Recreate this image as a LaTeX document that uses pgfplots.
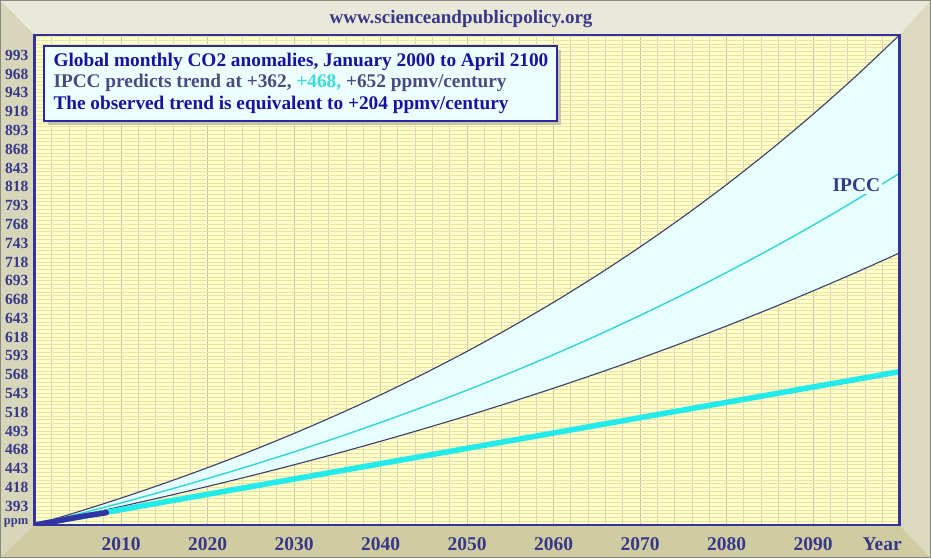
\documentclass[border=0pt]{standalone}
\usepackage{pgfplots}
\pgfplotsset{compat=1.18}
\usepgfplotslibrary{fillbetween}
\usepackage{pgfplotstable}
\usepackage{fontspec}
\setmainfont{Liberation Serif}

\definecolor{frameTop}{HTML}{EAE9D9}
\definecolor{frameLeft}{HTML}{D7D5BA}
\definecolor{frameBottom}{HTML}{D0CCA2}
\definecolor{frameRight}{HTML}{DBD9BE}
\definecolor{frameEdge}{HTML}{8A8A7C}
\definecolor{plotBg}{HTML}{FFFFCC}
\definecolor{gridH}{HTML}{EAE3A2}
\definecolor{gridV}{HTML}{DAD6BC}
\definecolor{gridVmaj}{HTML}{C6C2AE}
\definecolor{navy}{HTML}{333399}
\definecolor{labelNavy}{HTML}{38388A}
\definecolor{bandFill}{HTML}{E8FFFF}
\definecolor{bandEdge}{HTML}{3C3C6E}
\definecolor{midCyan}{HTML}{2ED6D6}
\definecolor{obsCyan}{HTML}{22EBEB}
\definecolor{obsBlue}{HTML}{3333A6}
\definecolor{boxBlue}{HTML}{1414A0}
\definecolor{boxSlate}{HTML}{4A4A80}
\definecolor{boxCyan}{HTML}{3CDCDC}
\definecolor{boxFill}{HTML}{EEFFFF}
\definecolor{boxBorder}{HTML}{2A2AA0}
\definecolor{boxShadow}{HTML}{C9C5A8}

% IPCC projections (ppmv): low, central and high scenarios
\pgfplotstableread{
year upper mid lower
2000 368.0 368.0 368.0
2005 385.4 382.4 380.1
2010 403.8 397.4 392.6
2015 423.4 413.2 405.7
2020 444.2 429.8 419.3
2025 466.3 447.1 433.4
2030 489.8 465.3 448.1
2035 514.7 484.4 463.4
2040 541.1 504.4 479.4
2045 569.2 525.4 496.0
2050 599.0 547.4 513.3
2055 630.7 570.5 531.3
2060 664.3 594.7 550.0
2065 700.0 620.1 569.5
2070 737.9 646.8 589.7
2075 778.2 674.7 610.8
2080 820.9 704.0 632.8
2085 866.3 734.7 655.7
2090 914.5 766.8 679.5
2095 965.6 800.6 704.2
2100 1020.0 836.0 730.0
}\ipcc

\begin{document}
\begin{tikzpicture}
% bevelled frame
\fill[frameTop] (0pt,558pt) -- (931pt,558pt) -- (899.5pt,523pt) -- (34.5pt,523pt) -- cycle;
\fill[frameLeft] (0pt,0pt) -- (0pt,558pt) -- (34.5pt,523pt) -- (34.5pt,33pt) -- cycle;
\fill[frameBottom] (0pt,0pt) -- (931pt,0pt) -- (899.5pt,33pt) -- (34.5pt,33pt) -- cycle;
\fill[frameRight] (931pt,0pt) -- (931pt,558pt) -- (899.5pt,523pt) -- (899.5pt,33pt) -- cycle;
\draw[frameEdge, line width=1.2pt] (0.6pt,0.6pt) rectangle (930.4pt,557.4pt);

\node[anchor=base, inner sep=0pt, text=labelNavy, font=\bfseries\fontsize{19}{22}\selectfont]
  at (461pt,534.5pt) {www.scienceandpublicpolicy.org};

\begin{axis}[
  at={(34.5pt,33pt)}, anchor=south west,
  width=865pt, height=490pt, scale only axis,
  xmin=2000, xmax=2100, ymin=368, ymax=1020,
  /pgf/number format/1000 sep={},
  /pgf/number format/assume math mode=true,
  axis background/.style={fill=plotBg},
  axis line style={draw=navy, line width=2.2pt},
  major tick length=0pt, minor tick length=0pt,
  xtick={2010,2020,...,2090},
  minor xtick={2002,2004,...,2098},
  ytick={393,418,...,993},
  minor ytick={373,378,...,1018},
  grid=both,
  major x grid style={gridVmaj, line width=0.8pt},
  minor x grid style={gridV, line width=0.7pt},
  major y grid style={gridH, line width=0.8pt},
  minor y grid style={gridH, line width=0.8pt},
  yticklabel style={anchor=east, inner sep=0pt, xshift=-6pt,
    text=labelNavy, font=\bfseries\fontsize{15.5}{17}\selectfont},
  xticklabel style={anchor=base, inner sep=0pt, yshift=-25.4pt,
    text=labelNavy, font=\bfseries\fontsize{19.5}{22}\selectfont},
  extra y ticks={368}, extra y tick labels={ppm},
  extra y tick style={grid=none, yticklabel style={yshift=2pt,
    font=\bfseries\fontsize{12.5}{14}\selectfont}},
  extra x ticks={2098}, extra x tick labels={Year},
  extra x tick style={grid=none},
]
\addplot[name path=up, draw=none, smooth] table[x=year,y=upper]{\ipcc};
\addplot[name path=lo, draw=none, smooth] table[x=year,y=lower]{\ipcc};
\addplot[draw=none, fill=bandFill] fill between[of=up and lo];
\addplot[bandEdge, line width=1.1pt, smooth] table[x=year,y=upper]{\ipcc};
\addplot[bandEdge, line width=1.1pt, smooth] table[x=year,y=lower]{\ipcc};
\addplot[midCyan, line width=1.4pt, smooth] table[x=year,y=mid]{\ipcc};
% observed trend and the monthly record so far
\addplot[obsCyan, line width=5.5pt] coordinates {(2000,368) (2100,572)};
\addplot[obsBlue, line width=5.5pt, line cap=round] coordinates
  {(2000,368) (2002,372.2) (2004,376.4) (2006,380.4) (2008.3,384.4)};
\node[anchor=base west, fill=bandFill, inner sep=2pt, text=labelNavy,
  font=\bfseries\fontsize{19.5}{22}\selectfont] at (axis cs:2092,811.5) {IPCC};
\end{axis}

% plot-area border, drawn over the band
\draw[navy, line width=2.4pt] (34.5pt,33pt) rectangle (899.5pt,523pt);

% caption box
\fill[boxShadow] (48pt,433.3pt) rectangle (561pt,508.3pt);
\filldraw[fill=boxFill, draw=boxBorder, line width=2pt] (44pt,437.3pt) rectangle (557pt,512.3pt);
\begin{scope}[every node/.style={anchor=base west, inner sep=0pt,
    font=\bfseries\fontsize{19.3}{22}\selectfont}]
\node[text=boxBlue] at (53.3pt,491.5pt) {Global monthly CO2 anomalies, January 2000 to April 2100};
\node at (53.3pt,470.5pt) {\color{boxSlate}IPCC predicts trend at +362, \color{boxCyan}+468, \color{boxSlate}+652 ppmv/century};
\node[text=boxBlue] at (53.3pt,448.5pt) {The observed trend is equivalent to +204 ppmv/century};
\end{scope}
\end{tikzpicture}
\end{document}
